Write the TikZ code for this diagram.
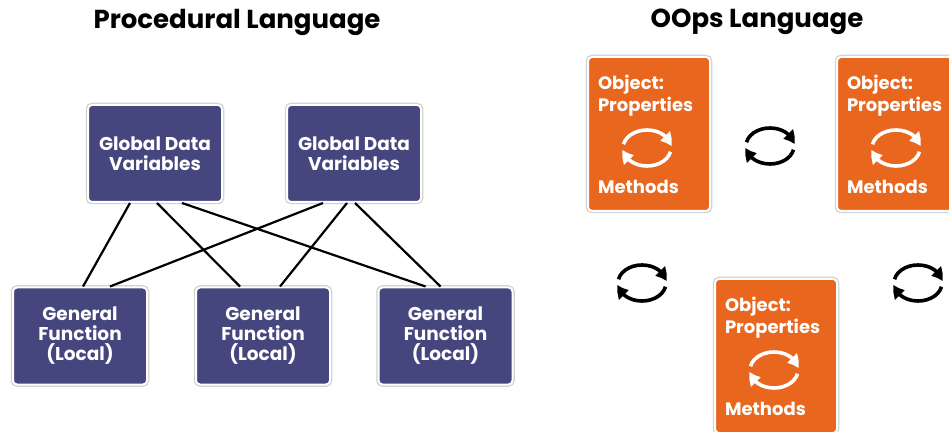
\documentclass[tikz,border=0pt]{standalone}
\usepackage{fontspec}
\setmainfont{Poppins}
\usetikzlibrary{arrows.meta, bending, positioning}

\definecolor{navybox}{HTML}{45467E}
\definecolor{orangebox}{HTML}{E8661E}

\begin{document}
\begin{tikzpicture}[
    x=1pt, y=1pt,
    card/.style={preaction={draw=black!18, line width=4.5pt}, draw=white, line width=2pt, rounded corners=4pt},
    proc/.style={card, fill=navybox, text=white, minimum width=134pt, minimum height=97pt, align=center, font=\bfseries\fontsize{18.5}{20}\selectfont},
    obj/.style={card, fill=orangebox, text=white, inner xsep=10pt, text width=102pt, minimum height=154pt, align=left, font=\bfseries\fontsize{18}{22}\selectfont},
    link/.style={line width=2.2pt, black},
    title/.style={font=\bfseries\fontsize{26}{30}\selectfont},
    cycle arrows/.pic={
        \draw[line width=3.6pt, -{Triangle[bend, length=12pt, width=13pt]}] (168:24pt and 18pt) arc[start angle=168, end angle=5, x radius=24pt, y radius=18pt];
        \draw[line width=3.6pt, -{Triangle[bend, length=12pt, width=13pt]}] (-12:24pt and 18pt) arc[start angle=-12, end angle=-175, x radius=24pt, y radius=18pt];
    }
]
    \clip (0,0) rectangle (949,431);
    \fill[white] (0,0) rectangle (949,431);

    % procedural side
    \node[title] (ptitle) at (237,409) {Procedural Language};
    \node[proc] (g1) at (155,277.5) {Global Data\\Variables};
    \node[proc] (g2) at (354,277.5) {Global Data\\Variables};
    \node[proc] (f1) at (80,95) {General\\Function\\(Local)};
    \node[proc] (f2) at (263,95) {General\\Function\\(Local)};
    \node[proc] (f3) at (445.5,95) {General\\Function\\(Local)};

    \draw[link] ([xshift=-25pt]g1.south) -- ([xshift=3pt]f1.north);
    \draw[link] ([xshift=2pt]g1.south) -- ([xshift=-23pt]f2.north);
    \draw[link] ([xshift=27pt]g1.south) -- ([xshift=-20pt]f3.north);
    \draw[link] ([xshift=-31pt]g2.south) -- ([xshift=30pt]f1.north);
    \draw[link] ([xshift=-7pt]g2.south) -- ([xshift=17pt]f2.north);
    \draw[link] ([xshift=1pt]g2.south) -- ([xshift=-5pt]f3.north);

    % oops side
    \node[title] (otitle) at (757,409) {OOps Language};
    \node[obj] (o1) at (649,297) {Object:\\Properties\\[60pt]Methods};
    \node[obj] (o2) at (898,297) {Object:\\Properties\\[60pt]Methods};
    \node[obj] (o3) at (776,75) {Object:\\Properties\\[60pt]Methods};

    \pic[white] at ([shift={(-2,-14)}]o1.center) {cycle arrows};
    \pic[white] at ([shift={(-2,-14)}]o2.center) {cycle arrows};
    \pic[white] at ([shift={(-2,-14)}]o3.center) {cycle arrows};

    \pic[black] at (770,285) {cycle arrows};
    \pic[black] at (642,148) {cycle arrows};
    \pic[black] at (918,148) {cycle arrows};
\end{tikzpicture}
\end{document}
